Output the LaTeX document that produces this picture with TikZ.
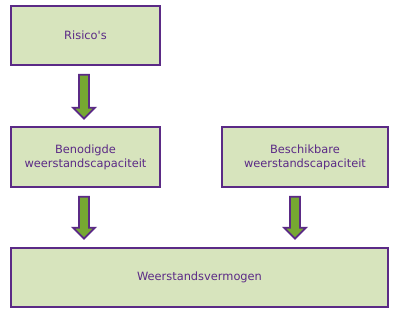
\documentclass[tikz,border=0pt]{standalone}
\usepackage{fontspec}
\setmainfont{DejaVu Sans}
\usetikzlibrary{calc}
\definecolor{boxfill}{HTML}{D7E4BD}
\definecolor{purp}{HTML}{5B2A86}
\definecolor{arrgreen}{HTML}{76A832}
\tikzset{
  box/.style={draw=purp, line width=1.4pt, fill=boxfill, text=purp, align=center,
    inner sep=0pt, font=\fontsize{11.4}{14}\selectfont},
  blockarrow/.style={draw=purp, line width=1.8pt, fill=arrgreen, line join=miter}
}
\newcommand{\blockarr}[2]{% start coordinate, shaft length
  \draw[blockarrow] ($(#1)+(-5,0)$) -- ++(10,0) -- ++(0,#2) -- ++(6,0) -- ++(-11,11) -- ++(-11,-11) -- ++(6,0) -- cycle;}
\begin{document}
\begin{tikzpicture}[x=1pt,y=-1pt]
\useasboundingbox (0,0) rectangle (398,315);
\node[box, minimum width=149pt, minimum height=59pt] (r) at (85.5,35.5) {Risico\textquotesingle s};
\node[box, minimum width=149pt, minimum height=60pt] (b) at (85.5,157) {Benodigde\\weerstandscapaciteit};
\node[box, minimum width=166pt, minimum height=60pt] (c) at (305,157) {Beschikbare\\weerstandscapaciteit};
\node[box, minimum width=377pt, minimum height=59pt] (w) at (199.5,277.5) {Weerstandsvermogen};
\coordinate (a1) at ($(r.south)+(-1.5,9)$);
\coordinate (a2) at ($(b.south)+(-1.5,9)$);
\coordinate (a3) at ($(c.south)+(-10,9)$);
\blockarr{a1}{33}
\blockarr{a2}{31}
\blockarr{a3}{31}
\end{tikzpicture}
\end{document}
